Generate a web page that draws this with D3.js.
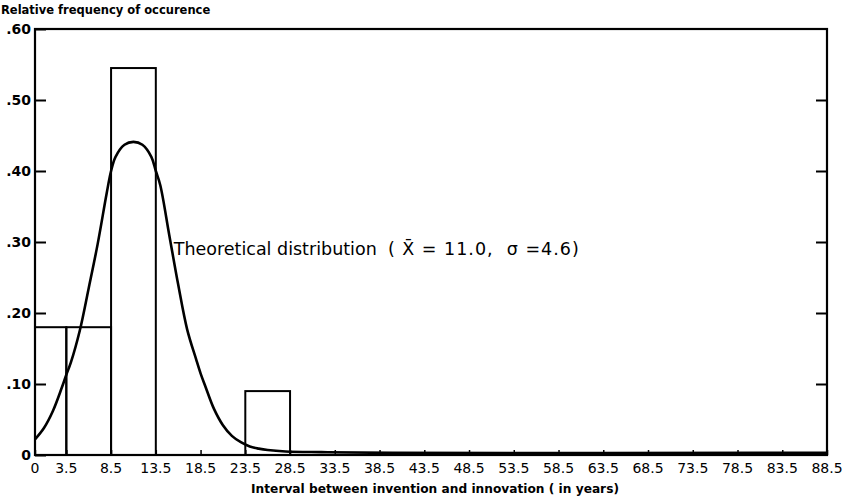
<!DOCTYPE html>
<html>
<head>
<meta charset="utf-8">
<script src="https://cdn.jsdelivr.net/npm/d3@7"></script>
<style>
  html, body { margin: 0; padding: 0; background: #fff; }
  svg { display: block; }
</style>
</head>
<body>
<script>
// ---- data ----
const binStarts = [0, 3.5, 8.5, 23.5];
const binEnds   = [3.5, 8.5, 13.5, 28.5];
const binFreq   = [0.18, 0.18, 0.545, 0.09];

const curveX = [0, 1, 2, 3, 3.5, 4, 5, 6, 7, 8, 8.5, 9, 10, 11, 12, 13, 13.5, 14, 15, 16, 17, 18, 18.5, 19, 20, 21, 22, 23, 24, 25, 26, 28, 32, 40, 88.5];
const curveY = [0.022, 0.038, 0.062, 0.095, 0.113, 0.13, 0.175, 0.235, 0.297, 0.368, 0.40, 0.42, 0.437, 0.441, 0.437, 0.42, 0.40, 0.38, 0.31, 0.24, 0.177, 0.135, 0.115, 0.098, 0.065, 0.042, 0.027, 0.018, 0.012, 0.009, 0.007, 0.005, 0.004, 0.003, 0.003];

const xTicks = [0, 3.5, 8.5, 13.5, 18.5, 23.5, 28.5, 33.5, 38.5, 43.5, 48.5, 53.5, 58.5, 63.5, 68.5, 73.5, 78.5, 83.5, 88.5];
const xTickLabels = ["0", "3.5", "8.5", "13.5", "18.5", "23.5", "28.5", "33.5", "38.5", "43.5", "48.5", "53.5", "58.5", "63.5", "68.5", "73.5", "78.5", "83.5", "88.5"];
const yTicks = [0, 0.1, 0.2, 0.3, 0.4, 0.5, 0.6];
const yTickLabels = ["0", ".10", ".20", ".30", ".40", ".50", ".60"];

const yTitle = "Relative frequency of occurence";
const xTitle = "Interval between invention and innovation ( in years)";

// ---- layout ----
const W = 845, H = 497;
const m = { left: 35, right: 18, top: 29, bottom: 42 };

const svg = d3.select("body").append("svg").attr("width", W).attr("height", H);

const x = d3.scaleLinear().domain([0, 88.5]).range([m.left, W - m.right]);
const y = d3.scaleLinear().domain([0, 0.6]).range([H - m.bottom, m.top]);

// bars
const bars = binStarts.map((s, i) => ({ s, e: binEnds[i], v: binFreq[i] }));
svg.append("g").selectAll("rect").data(bars).join("rect")
  .attr("x", d => x(d.s))
  .attr("y", d => y(d.v))
  .attr("width", d => x(d.e) - x(d.s))
  .attr("height", d => y(0) - y(d.v))
  .attr("fill", "none")
  .attr("stroke", "#000")
  .attr("stroke-width", 2);

// curve
const pts = curveX.map((v, i) => [v, curveY[i]]);
svg.append("path")
  .datum(pts)
  .attr("d", d3.line().x(d => x(d[0])).y(d => y(d[1])).curve(d3.curveCatmullRom.alpha(0.5)))
  .attr("fill", "none")
  .attr("stroke", "#000")
  .attr("stroke-width", 2.6);

// frame (box)
svg.append("rect")
  .attr("x", x(0)).attr("y", y(0.6))
  .attr("width", x(88.5) - x(0)).attr("height", y(0) - y(0.6))
  .attr("fill", "none").attr("stroke", "#000").attr("stroke-width", 2.2);

// left axis (ticks inward)
const yLeft = d3.axisRight(y).tickValues(yTicks).tickSize(11).tickFormat("");
svg.append("g").attr("transform", `translate(${x(0)},0)`).call(yLeft)
  .call(g => g.select(".domain").remove())
  .call(g => g.selectAll("line").attr("stroke-width", 2));

// right axis (ticks inward)
const yRight = d3.axisLeft(y).tickValues(yTicks.filter(v => v > 0 && v < 0.6)).tickSize(11).tickFormat("");
svg.append("g").attr("transform", `translate(${x(88.5)},0)`).call(yRight)
  .call(g => g.select(".domain").remove())
  .call(g => g.selectAll("line").attr("stroke-width", 2));

// y labels
svg.append("g").selectAll("text").data(yTicks).join("text")
  .attr("x", m.left - 4)
  .attr("y", d => y(d))
  .attr("dy", "0.36em")
  .attr("text-anchor", "end")
  .attr("font-family", "DejaVu Sans, sans-serif")
  .attr("font-weight", "bold")
  .attr("font-size", 14)
  .text((d, i) => yTickLabels[i]);

// x ticks (small, upward) and labels
const xAx = d3.axisTop(x).tickValues(xTicks).tickSize(5).tickFormat("");
svg.append("g").attr("transform", `translate(0,${y(0)})`).call(xAx)
  .call(g => g.select(".domain").remove())
  .call(g => g.selectAll("line").attr("stroke-width", 1.5));

svg.append("g").selectAll("text").data(xTicks).join("text")
  .attr("x", d => x(d))
  .attr("y", y(0) + 18)
  .attr("text-anchor", "middle")
  .attr("font-family", "DejaVu Sans, sans-serif")
  .attr("font-size", 14)
  .text((d, i) => xTickLabels[i]);

// titles
svg.append("text")
  .attr("x", 1).attr("y", 14)
  .attr("font-family", "DejaVu Sans, sans-serif")
  .attr("font-weight", "bold")
  .attr("font-size", 11.5)
  .text(yTitle);

svg.append("text")
  .attr("x", x(44.7)).attr("y", 493)
  .attr("text-anchor", "middle")
  .attr("font-family", "DejaVu Sans, sans-serif")
  .attr("font-weight", "bold")
  .attr("font-size", 12.2)
  .text(xTitle);

// annotation
const ann = svg.append("text")
  .attr("x", x(15.5)).attr("y", y(0.29))
  .attr("dy", "0.36em")
  .style("white-space", "pre")
  .attr("font-family", "DejaVu Sans, sans-serif")
  .attr("font-size", 17.5);
ann.append("tspan").text("Theoretical distribution  ");
const par = ann.append("tspan").attr("letter-spacing", 1);
par.append("tspan").text("( ");
par.append("tspan").text("X\u0304");
par.append("tspan").text(" = 11.0,  ");
par.append("tspan").text("\u03C3");
par.append("tspan").text(" =4.6)");
</script>
</body>
</html>
